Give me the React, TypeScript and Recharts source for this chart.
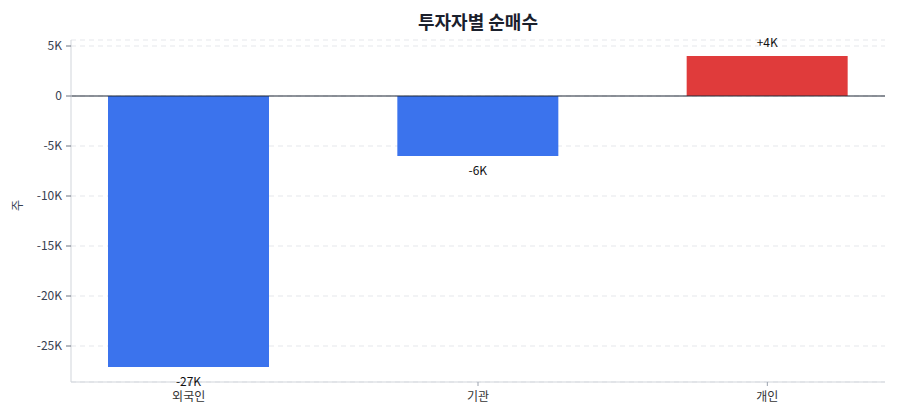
import React from "react";
import { BarChart, Bar, XAxis, YAxis, CartesianGrid, ReferenceLine, Cell, LabelList, Label } from "recharts";

const investors = ["외국인", "기관", "개인"];
const netBuy = [-27100, -6000, 4000];
const yTicks = [5000, 0, -5000, -10000, -15000, -20000, -25000];

const data = investors.map((name, i) => ({ name, value: netBuy[i] }));

const FONT = "'Noto Sans CJK KR', 'Noto Sans', sans-serif";

const fmtTick = (v: number) => (v === 0 ? "0" : `${v / 1000}K`);
const fmtLabel = (v: number) => `${v > 0 ? "+" : ""}${Math.round(v / 1000)}K`;

const renderLabel = (props: any) => {
  const { x, y, width, height, value } = props;
  const cx = Number(x) + Number(width) / 2;
  const top = Math.min(Number(y), Number(y) + Number(height));
  const bottom = Math.max(Number(y), Number(y) + Number(height));
  const ty = value >= 0 ? top - 15 : bottom + 13;
  return (
    <text x={cx} y={ty} textAnchor="middle" dominantBaseline="central" fontSize={12} fill="#111" fontFamily={FONT}>
      {fmtLabel(value)}
    </text>
  );
};

export default function App() {
  return (
    <div style={{ position: "fixed", left: 0, top: 0, width: 900, height: 420, background: "#fff", fontFamily: FONT }}>
      <div style={{ position: "absolute", left: 0, top: 8, width: 956, textAlign: "center", fontSize: 18, fontWeight: 700, color: "#1a202c" }}>
        투자자별 순매수
      </div>
      <BarChart width={900} height={420} data={data} margin={{ top: 40, right: 15, bottom: 8, left: 20 }} barSize={161}>
        <CartesianGrid horizontal vertical={false} stroke="#e5e7eb" strokeDasharray="5 4" />
        <XAxis
          dataKey="name"
          padding={{ left: -27, right: -27 }}
          height={30}
          axisLine={{ stroke: "#d1d5db" }}
          tickLine={{ stroke: "#9ca3af" }}
          tickSize={4}
          tickMargin={6}
          tick={{ fontSize: 12, fill: "#333", fontFamily: FONT }}
        />
        <YAxis
          width={51}
          domain={[-28600, 5600]}
          ticks={yTicks}
          tickFormatter={fmtTick}
          axisLine={{ stroke: "#d1d5db" }}
          tickLine={{ stroke: "#6b7280" }}
          tickSize={5}
          tickMargin={4}
          tick={{ fontSize: 12, fill: "#374151", fontFamily: FONT }}
        >
          <Label value="주" angle={-90} position="insideLeft" offset={-2} style={{ fontSize: 12, fill: "#374151", fontFamily: FONT }} />
        </YAxis>
        <ReferenceLine y={0} stroke="#1f2937" strokeWidth={1.2} />
        <Bar dataKey="value" isAnimationActive={false}>
          {data.map((d, i) => (
            <Cell key={i} fill={d.value >= 0 ? "#E03B3B" : "#3B73ED"} />
          ))}
          <LabelList dataKey="value" content={renderLabel} />
        </Bar>
      </BarChart>
    </div>
  );
}
